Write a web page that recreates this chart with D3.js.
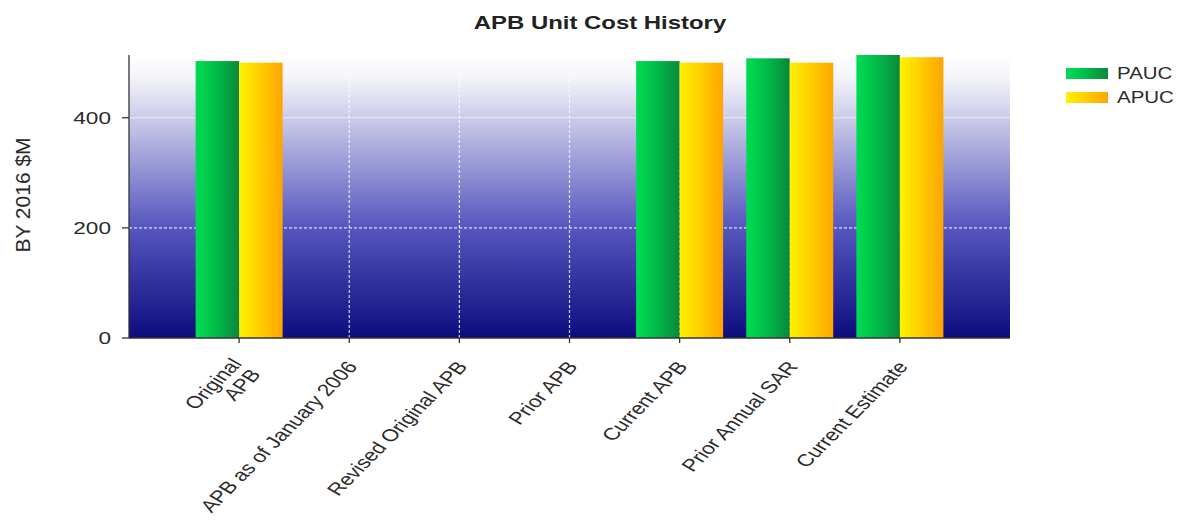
<!DOCTYPE html>
<html>
<head>
<meta charset="utf-8">
<script src="https://cdn.jsdelivr.net/npm/d3@7/dist/d3.min.js"></script>
<style>
  html, body { margin: 0; padding: 0; background: #ffffff; }
  svg { display: block; font-family: "Liberation Sans", Arial, sans-serif; }
</style>
</head>
<body>
<svg id="chart" width="1180" height="520"></svg>
<script>
// Unit cost history, base-year 2016 $M
const categories = ["Original APB", "APB as of January 2006", "Revised Original APB",
                    "Prior APB", "Current APB", "Prior Annual SAR", "Current Estimate"];
const tickLabels = [["Original", "APB"], ["APB as of January 2006"], ["Revised Original APB"],
                    ["Prior APB"], ["Current APB"], ["Prior Annual SAR"], ["Current Estimate"]];
const seriesNames = ["PAUC", "APUC"];
const paucValues = [503, null, null, null, 503, 508, 514];
const apucValues = [500, null, null, null, 500, 500, 510];
const yTicks = [0, 200, 400];

const svg = d3.select("#chart");
const plot = { left: 129, right: 1010, top: 55, bottom: 338 };
const sx = 1.33; // horizontal text stretch used throughout the chart

const defs = svg.append("defs");
const bg = defs.append("linearGradient").attr("id", "plotBg")
  .attr("x1", 0).attr("y1", 0).attr("x2", 0).attr("y2", 1);
[[0, "#ffffff"], [0.08, "#f4f4fb"], [0.24, "#c6c6e8"], [0.6, "#5858c0"], [1, "#0c0c7e"]].forEach(([o, c]) =>
  bg.append("stop").attr("offset", o).attr("stop-color", c));

const fills = {
  PAUC: [[0, "#00dc52"], [0.4, "#00c24a"], [1, "#0a883c"]],
  APUC: [[0, "#fff200"], [0.4, "#ffd400"], [1, "#ffa400"]]
};
Object.entries(fills).forEach(([k, stops]) => {
  const g = defs.append("linearGradient").attr("id", "fill" + k)
    .attr("x1", 0).attr("y1", 0).attr("x2", 1).attr("y2", 0);
  stops.forEach(([o, c]) => g.append("stop").attr("offset", o).attr("stop-color", c));
});

// Scales: categories sit at evenly spaced points with one empty slot at each end
const x = d3.scalePoint().domain(categories).range([plot.left, plot.right]).padding(1);
const groupW = x.step() * 0.79;
const xs = d3.scaleBand().domain(seriesNames).range([-groupW / 2, groupW / 2]);
const y = d3.scaleLinear().domain([0, d3.max(paucValues.concat(apucValues))])
  .range([plot.bottom, plot.top]);

// Plot background
svg.append("rect")
  .attr("x", plot.left).attr("y", plot.top)
  .attr("width", plot.right - plot.left).attr("height", plot.bottom - plot.top)
  .attr("fill", "url(#plotBg)");

// Grid lines
const grid = svg.append("g").attr("stroke", "#ffffff").attr("stroke-opacity", 0.8)
  .attr("stroke-width", 1.2);
grid.selectAll("line.h").data(yTicks.filter(t => t > 0)).join("line")
  .attr("stroke-dasharray", d => d >= 400 ? null : "3,2")
  .attr("stroke-opacity", d => d >= 400 ? 0.6 : 0.8)
  .attr("x1", plot.left).attr("x2", plot.right)
  .attr("y1", d => y(d)).attr("y2", d => y(d));
grid.selectAll("line.v").data(categories).join("line")
  .attr("stroke-dasharray", "3,2")
  .attr("x1", d => x(d)).attr("x2", d => x(d))
  .attr("y1", plot.top).attr("y2", plot.bottom);

// Bars
const rows = categories.map((c, i) => ({ c, PAUC: paucValues[i], APUC: apucValues[i] }));
svg.append("g").selectAll("g").data(rows).join("g")
  .attr("transform", d => `translate(${x(d.c)},0)`)
  .selectAll("rect")
  .data(d => seriesNames.map(k => ({ k, v: d[k] })).filter(e => e.v != null))
  .join("rect")
  .attr("x", d => xs(d.k)).attr("width", xs.bandwidth())
  .attr("y", d => y(d.v)).attr("height", d => y(0) - y(d.v))
  .attr("fill", d => `url(#fill${d.k})`);

// Axes
const axisCol = "#333";
const yAxis = svg.append("g");
yAxis.append("line").attr("x1", plot.left).attr("x2", plot.left)
  .attr("y1", plot.top).attr("y2", plot.bottom).attr("stroke", axisCol).attr("stroke-width", 1.3);
yTicks.forEach(t => {
  yAxis.append("line").attr("x1", plot.left - 7).attr("x2", plot.left)
    .attr("y1", y(t)).attr("y2", y(t)).attr("stroke", axisCol).attr("stroke-width", 1.3);
  yAxis.append("text")
    .attr("transform", `translate(${plot.left - 18},${y(t)}) scale(${sx},1)`)
    .attr("text-anchor", "end").attr("dy", "0.36em")
    .attr("font-size", 17).attr("fill", "#2a2a2a").text(t);
});

const xAxis = svg.append("g");
xAxis.append("line").attr("x1", plot.left).attr("x2", plot.right)
  .attr("y1", plot.bottom).attr("y2", plot.bottom).attr("stroke", axisCol).attr("stroke-width", 1.3);
categories.forEach((c, i) => {
  xAxis.append("line").attr("x1", x(c)).attr("x2", x(c))
    .attr("y1", plot.bottom).attr("y2", plot.bottom + 5).attr("stroke", axisCol).attr("stroke-width", 1.3);
  const t = xAxis.append("text")
    .attr("transform", `translate(${x(c) + 9},${plot.bottom + 29}) scale(${sx},1) rotate(-53)`)
    .attr("text-anchor", "end").attr("font-size", 17).attr("fill", "#2a2a2a");
  tickLabels[i].forEach((line, j) =>
    t.append("tspan").attr("x", 0).attr("dy", j === 0 ? (tickLabels[i].length > 1 ? "-0.3em" : 0) : "1.05em").text(line));
});

// Y axis title
svg.append("text")
  .attr("transform", `translate(30,195) rotate(-90)`)
  .attr("text-anchor", "middle").attr("font-size", 21).attr("fill", "#2a2a2a")
  .text("BY 2016 $M");

// Chart title
svg.append("text")
  .attr("transform", `translate(600,29) scale(${sx},1)`)
  .attr("text-anchor", "middle").attr("font-size", 18).attr("font-weight", "bold")
  .attr("fill", "#222").text("APB Unit Cost History");

// Legend
const legend = svg.append("g");
seriesNames.forEach((k, i) => {
  legend.append("rect").attr("x", 1066).attr("y", 68 + i * 24)
    .attr("width", 42).attr("height", 11).attr("fill", `url(#fill${k})`);
  legend.append("text")
    .attr("transform", `translate(1117,${79 + i * 24}) scale(1.28,1)`)
    .attr("font-size", 16).attr("fill", "#2a2a2a").text(k);
});
</script>
</body>
</html>
